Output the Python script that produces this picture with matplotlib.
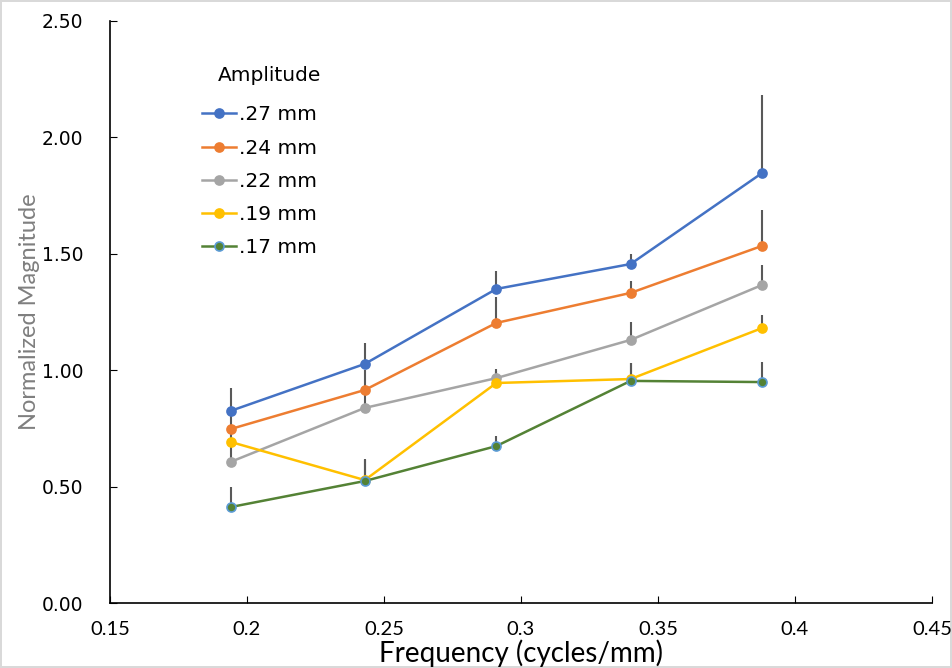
import matplotlib
matplotlib.use("Agg")
import matplotlib.pyplot as plt

freq = [0.194, 0.243, 0.291, 0.340, 0.388]

labels = [".27 mm", ".24 mm", ".22 mm", ".19 mm", ".17 mm"]
mag_27 = [0.825, 1.027, 1.349, 1.456, 1.847]
mag_24 = [0.747, 0.915, 1.203, 1.332, 1.534]
mag_22 = [0.606, 0.838, 0.966, 1.130, 1.366]
mag_19 = [0.692, 0.528, 0.945, 0.962, 1.181]
mag_17 = [0.412, 0.524, 0.674, 0.954, 0.949]

err_27 = [0.100, 0.090, 0.077, 0.045, 0.335]
err_24 = [0.070, 0.085, 0.110, 0.050, 0.154]
err_22 = [0.080, 0.080, 0.040, 0.077, 0.086]
err_19 = [0.060, 0.090, 0.050, 0.070, 0.056]
err_17 = [0.086, 0.090, 0.043, 0.075, 0.086]

colors = ["#4472C4", "#ED7D31", "#A5A5A5", "#FFC000", "#548235"]
series = [mag_27, mag_24, mag_22, mag_19, mag_17]
errors = [err_27, err_24, err_22, err_19, err_17]

fig = plt.figure(figsize=(9.52, 6.68), dpi=100)
fig.patch.set_edgecolor("#d9d9d9")
fig.patch.set_linewidth(1.5)
ax = fig.add_axes([0.1155, 0.0973, 0.8635, 0.8713])

for y, e, c, lab in zip(series, errors, colors, labels):
    edge = "#5B9BD5" if lab == ".17 mm" else c
    ax.errorbar(freq, y, yerr=[[0] * len(e), e], fmt="none", ecolor="#595959",
                elinewidth=1.5, capsize=0, zorder=1)
    ax.plot(freq, y, color=c, lw=1.8, marker="o", ms=6.5, mfc=c, mec=edge,
            mew=1.2, label=lab, zorder=3)

ax.set_xlim(0.15, 0.45)
ax.set_ylim(0, 2.5)
ax.set_xticks([0.15, 0.2, 0.25, 0.3, 0.35, 0.4, 0.45])
ax.set_xticklabels(["0.15", "0.2", "0.25", "0.3", "0.35", "0.4", "0.45"],
                   family="Lato", fontsize=14.5)
ax.set_yticks([0, 0.5, 1.0, 1.5, 2.0, 2.5])
ax.set_yticklabels(["0.00", "0.50", "1.00", "1.50", "2.00", "2.50"], fontsize=13.5)
ax.tick_params(axis="x", direction="in", length=5, pad=13)
ax.tick_params(axis="y", direction="in", length=5, pad=19)
ax.spines["top"].set_visible(False)
ax.spines["right"].set_visible(False)
ax.spines["left"].set_linewidth(1.2)
ax.spines["bottom"].set_linewidth(1.2)

ax.set_xlabel("Frequency (cycles/mm)", fontsize=20, family="Lato", labelpad=1)
ax.set_ylabel("Normalized Magnitude", fontsize=17, family="Lato", color="#7f7f7f")
ax.yaxis.set_label_coords(-0.085, 0.5)

# legend title placed on its own, Excel puts it a little to the right
ax.text(0.1314, 0.907, "Amplitude", transform=ax.transAxes, fontsize=14.5,
        ha="left", va="center")
leg = ax.legend(loc="upper left", bbox_to_anchor=(0.09, 0.886),
                frameon=False, fontsize=14.5, handlelength=1.7,
                labelspacing=0.7, handletextpad=0.15)

fig.savefig("out.png", dpi=100)
